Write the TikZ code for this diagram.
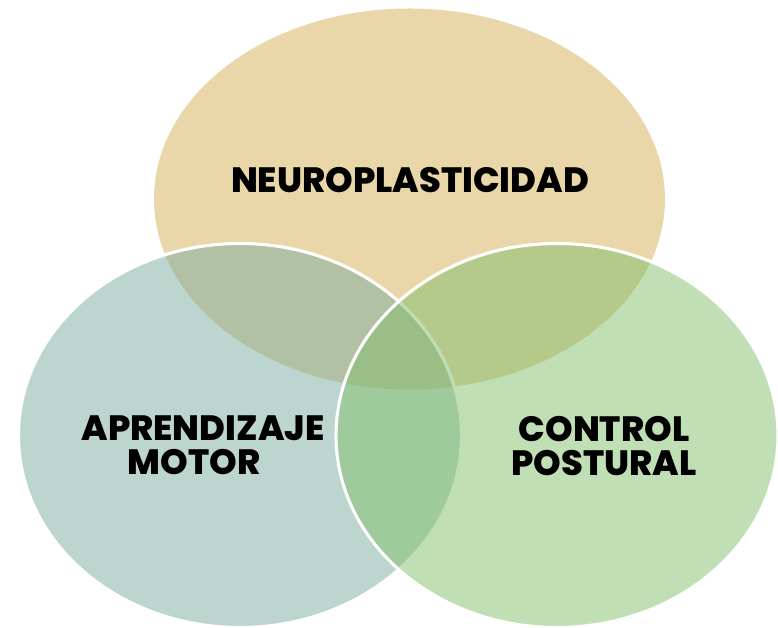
\documentclass[tikz,border=0pt]{standalone}
\usepackage{fontspec}
\setmainfont{Poppins}[BoldFont={Poppins ExtraBold}]

\definecolor{neurofill}{HTML}{D5AF53}
\definecolor{motorfill}{HTML}{7BAB9F}
\definecolor{posturalfill}{HTML}{81BF6B}

\tikzset{
  vennset/.style={fill opacity=0.5, draw=white, line width=2.2pt},
  vennlabel/.style={text=black, align=center, inner sep=0pt}
}

\begin{document}
\begin{tikzpicture}[x=0.025cm, y=-0.025cm]
\useasboundingbox (0,0) rectangle (778,628);

% three overlapping sets
\fill[neurofill, fill opacity=0.5] (409.5,199) ellipse [x radius=255.5, y radius=190.5];
\filldraw[vennset, fill=motorfill] (240,435.5) ellipse [x radius=221.5, y radius=192];
\filldraw[vennset, fill=posturalfill] (557,435.5) ellipse [x radius=221, y radius=192];

% labels
\node[vennlabel, font=\fontsize{25}{25}\selectfont\bfseries] (neuro) at (410,180) {NEUROPLASTICIDAD};
\node[vennlabel, font=\fontsize{25}{24}\selectfont\bfseries] (motor) at (203,445) {APRENDIZAJE\\MOTOR\hspace*{0.5em}};
\node[vennlabel, font=\fontsize{25}{24}\selectfont\bfseries] (postural) at (604,446) {CONTROL\\POSTURAL};

\end{tikzpicture}
\end{document}
